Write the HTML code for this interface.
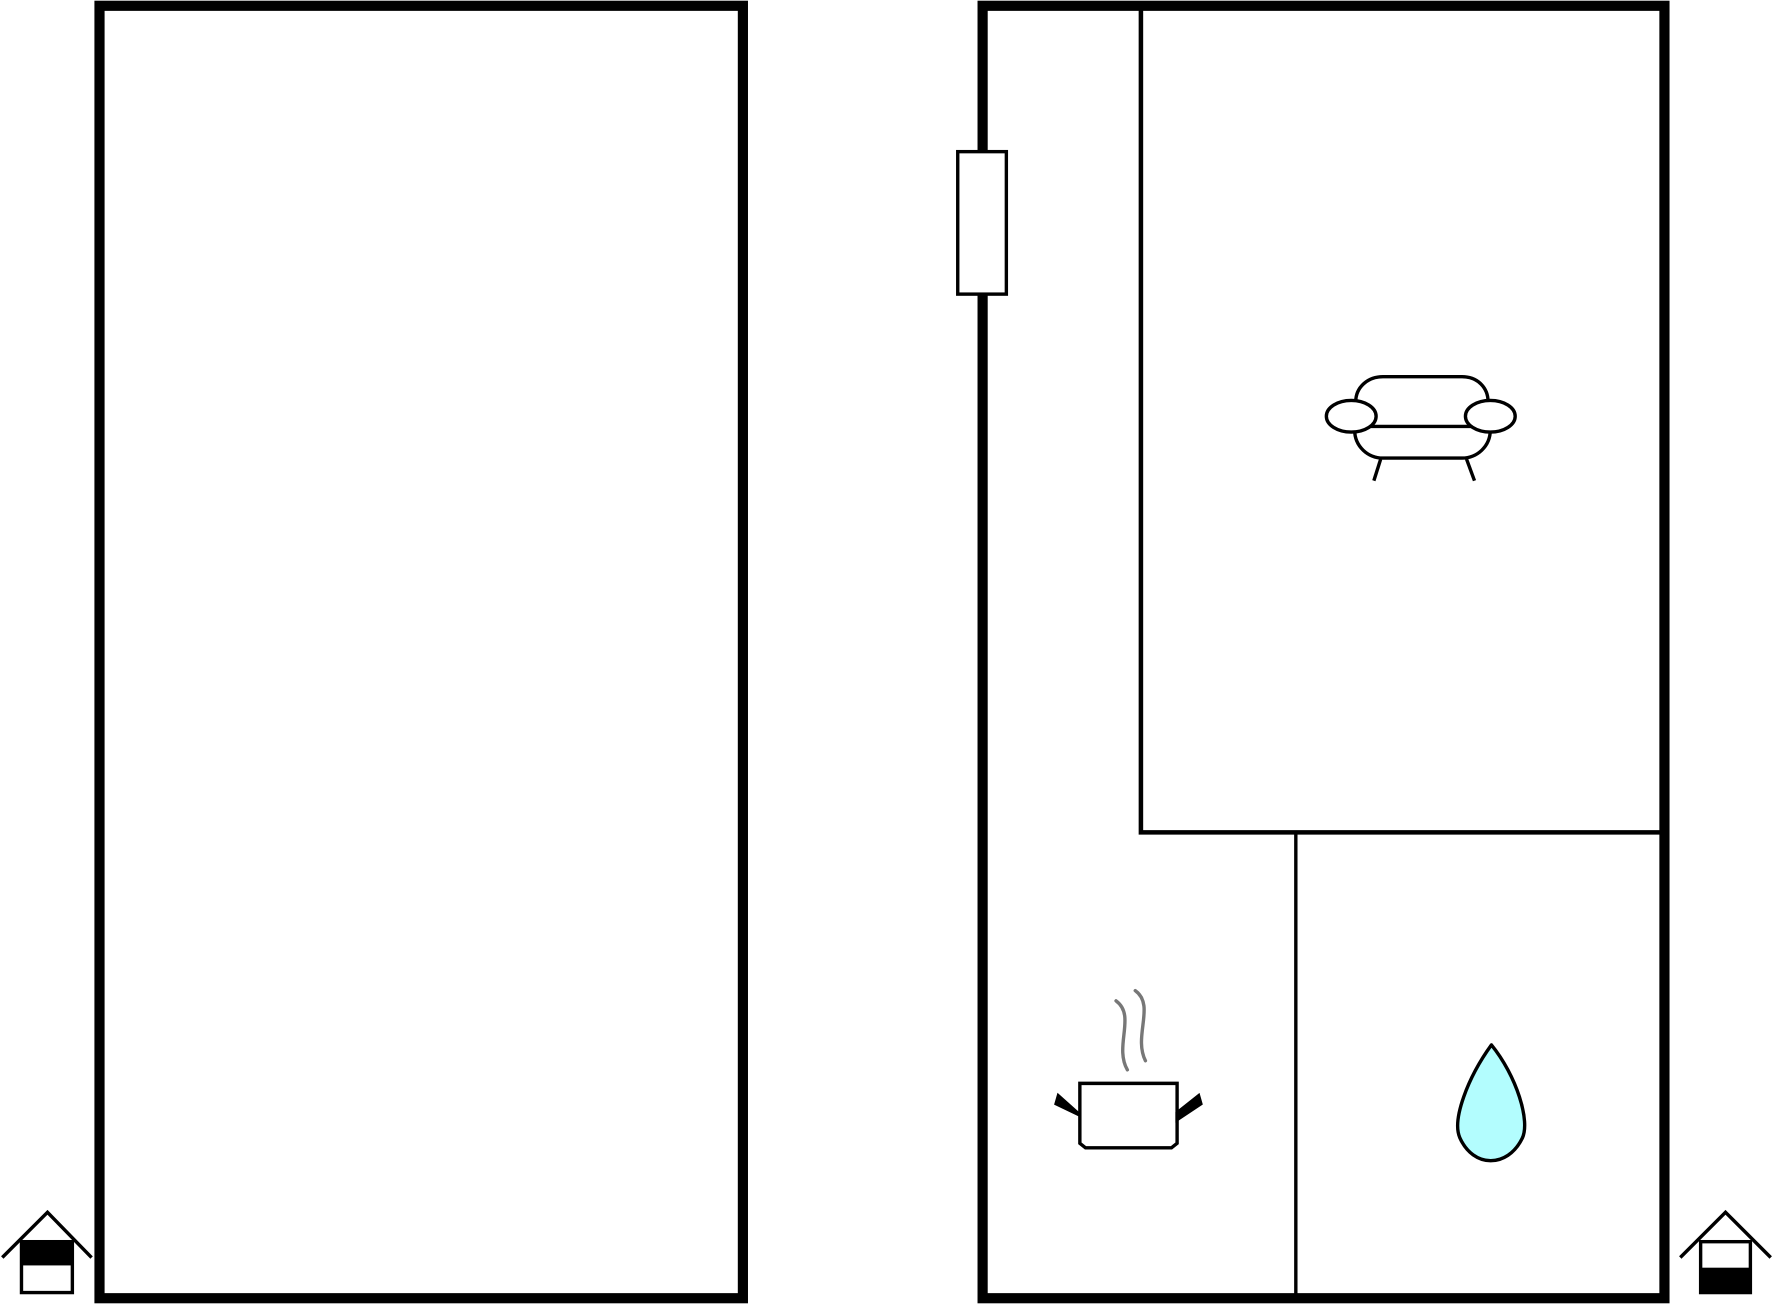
<!DOCTYPE html>
<html><head><style>html,body{margin:0;padding:0;background:#fff}svg{display:block}</style></head>
<body>
<svg width="1773" height="1304" viewBox="0 0 1568 1153" xmlns="http://www.w3.org/2000/svg">
<rect width="1568" height="1153" fill="#fff"/>
<g fill="none" stroke="#000">
<rect x="88" y="5" width="569" height="1143" stroke-width="9"/>
<rect x="869" y="5" width="603" height="1143" stroke-width="9"/>
<polyline points="1009,5 1009,736 1472,736" stroke-width="4"/>
<line x1="1146" y1="736" x2="1146" y2="1148" stroke-width="3"/>
</g>
<rect x="847" y="134" width="43" height="126" fill="#fff" stroke="#000" stroke-width="3"/>
<g fill="#fff" stroke="#000" stroke-width="3">
<path d="M1199,355 C1199,343 1209,333 1223,333 L1293,333 C1307,333 1316,343 1316,355 L1316,377 L1199,377 Z"/>
<path d="M1198,380 C1198,395 1210,405 1223,405 L1293,405 C1306,405 1318,395 1318,380"/>
<line x1="1221" y1="406" x2="1215" y2="425"/>
<line x1="1297" y1="406" x2="1304" y2="425"/>
<ellipse cx="1195" cy="368" rx="22" ry="14"/>
<ellipse cx="1318" cy="368" rx="22" ry="14"/>
</g>
<g stroke="#777" stroke-width="3" fill="none" stroke-linecap="round">
<path d="M987,885 C1005,898 985,925 997,946"/>
<path d="M1004,876 C1022,889 1002,916 1013,938"/>
</g>
<g stroke="#000" stroke-width="3">
<path d="M955,958 L1041,958 L1041,1011 L1036,1015 L960,1015 L955,1011 Z" fill="#fff"/>
<path d="M955,986 L934,976 L936,969 L955,986 Z" fill="#000"/>
<path d="M1041,990 L1062,976 L1060,969 L1041,984 Z" fill="#000"/>
</g>
<path d="M1319,924 C1341,951 1354,992 1346,1007 C1333,1033 1303,1033 1291,1006 C1284,990 1298,953 1319,924 Z" fill="#b3fdfe" stroke="#000" stroke-width="3" stroke-linejoin="round"/>
<g stroke="#000" stroke-width="3" fill="none">
<polyline points="2,1112 42,1072 81,1112"/>
<rect x="19" y="1098" width="45" height="45" fill="#fff"/>
<polyline points="1486,1112 1526,1072 1566,1112"/>
<rect x="1504" y="1098" width="44" height="45" fill="#fff"/>
</g>
<rect x="19" y="1098" width="45" height="21" fill="#000"/>
<rect x="1504" y="1121" width="44" height="22" fill="#000"/>
</svg>
</body></html>
